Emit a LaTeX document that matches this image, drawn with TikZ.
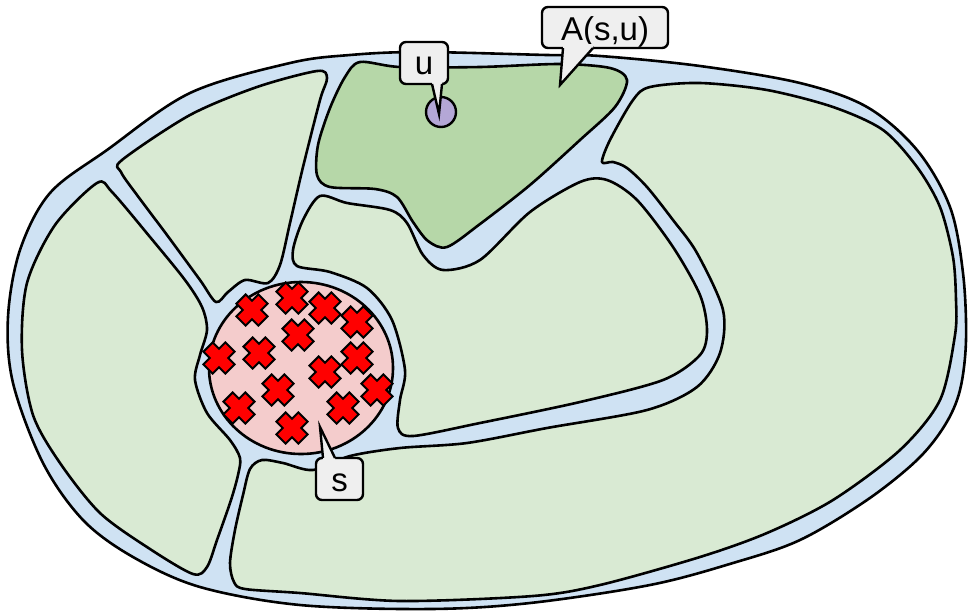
\documentclass[tikz,border=0pt]{standalone}
\usepackage{fontspec}
\setmainfont{Liberation Sans}
\definecolor{chan}{HTML}{CFE2F3}
\definecolor{lgreen}{HTML}{D9EAD3}
\definecolor{dgreen}{HTML}{B6D7A8}
\definecolor{pinkfill}{HTML}{F4CCCC}
\definecolor{lilac}{HTML}{B4A7D6}
\definecolor{boxgray}{HTML}{EFEFEF}
\tikzset{
  outline/.style={draw=black, line width=2.6pt, line join=round},
  region/.style={outline, fill=lgreen},
  callout/.style={draw=black, fill=boxgray, line width=2.4pt, rounded corners=6pt,
    inner sep=0pt, font=\fontsize{33}{38}\selectfont},
  ptrline/.style={draw=black, line width=2.4pt, line join=miter},
  xmark/.pic={
    \filldraw[fill=red, draw=black, line width=2pt, line join=miter, rotate=45]
      (-15.5,-6.5) -- (-6.5,-6.5) -- (-6.5,-15.5) -- (6.5,-15.5) -- (6.5,-6.5) -- (15.5,-6.5)
      -- (15.5,6.5) -- (6.5,6.5) -- (6.5,15.5) -- (-6.5,15.5) -- (-6.5,6.5) -- (-15.5,6.5) -- cycle;
  }
}
\begin{document}
\begin{tikzpicture}[x=1pt,y=-1pt]
\useasboundingbox (0,0) rectangle (968,614);

% outer blob (channels)
\filldraw[outline, fill=chan] plot[smooth cycle, tension=0.55] coordinates {
  (290,63) (350,55) (420,52) (547,55) (600,56) (700,66) (800,83) (867,107)
  (917,150) (950,207) (963,273) (966,340) (960,390) (945,425) (917,460)
  (867,500) (800,540) (733,563) (650,585) (530,603) (430,609) (300,605)
  (200,587) (133,557) (83,520) (43,463) (13,383) (8,317) (20,250) (50,193)
  (107,150) (190,93)};

% left region
\filldraw[region] plot[smooth cycle, tension=0.5] coordinates {
  (97,183) (112,192) (150,237) (185,280) (202,307) (207,330) (200,355)
  (195,380) (207,413) (230,440) (240,458) (238,475) (231,500) (217,540)
  (207,567) (193,574) (150,549) (100,513) (60,463) (33,415) (22,350)
  (27,283) (55,225)};

% top-left region
\filldraw[region] plot[smooth cycle, tension=0.5] coordinates {
  (122,160) (190,115) (257,87) (317,71) (327,78) (320,100) (303,167)
  (290,223) (280,265) (268,283) (245,280) (228,292) (216,302) (200,280)
  (167,235) (137,195) (121,172)};

% dark green region A(s,u)
\filldraw[outline, fill=dgreen] plot[smooth cycle, tension=0.5] coordinates {
  (360,62) (400,67) (480,67) (560,64) (610,68) (627,80) (615,107) (580,140)
  (530,185) (480,224) (447,247) (428,241) (413,222) (397,197) (375,189)
  (330,187) (317,175) (318,145) (330,108) (345,77)};

% middle region
\filldraw[region] plot[smooth cycle, tension=0.5] coordinates {
  (320,196) (347,203) (390,210) (407,223) (423,255) (443,270) (480,260)
  (530,212) (580,182) (607,180) (637,200) (673,247) (700,295) (707,330)
  (700,355) (663,380) (580,402) (480,423) (413,436) (398,428) (400,400)
  (405,370) (392,320) (367,288) (330,272) (297,266) (293,250) (303,220)};

% big wrapping region
\filldraw[region] plot[smooth cycle, tension=0.5] coordinates {
  (650,87) (700,83) (767,90) (833,107) (883,130) (917,167) (940,207)
  (953,257) (956,300) (955,335) (940,400) (900,450) (833,500) (767,533)
  (700,557) (600,585) (533,596) (400,601) (300,593) (245,589) (234,582)
  (230,563) (235,530) (243,495) (250,469) (262,460) (283,463) (313,470)
  (350,456) (400,448) (467,443) (547,428) (647,410) (697,387) (720,353)
  (723,310) (697,253) (673,220) (647,187) (627,168) (613,162) (602,162)
  (610,140) (633,100)};

% source set s
\filldraw[outline, fill=pinkfill] (301,368) ellipse [x radius=92, y radius=86];
\foreach \px/\py in {252/310, 292/298, 325/308, 357/322, 298/335, 219/358,
  259/353, 357/358, 325/372, 278/390, 377/390, 239/408, 343/408, 292/428}
  \pic at (\px,\py) {xmark};

% vertex u
\filldraw[draw=black, line width=2.4pt, fill=lilac] (441,112) circle [radius=15];

% callouts
\node[callout, minimum width=48pt, text height=32pt, text depth=10pt, anchor=base]
  (ulab) at (424,74) {u};
\fill[boxgray] (432,80) -- (432,84) -- (439,114) -- (442,84) -- (442,80) -- cycle;
\draw[ptrline] (432,84) -- (439,114) -- (442,84);

\node[callout, minimum width=126pt, text height=33pt, text depth=8pt, anchor=base]
  (alab) at (605,40) {A(s,u)};
\fill[boxgray] (563,44) -- (563,48) -- (560,85) -- (593,48) -- (593,44) -- cycle;
\draw[ptrline] (563,48) -- (560,85) -- (593,48);

\node[callout, minimum width=47pt, text height=33pt, text depth=9pt, anchor=base]
  (slab) at (339.5,491) {s};
\fill[boxgray] (323,462) -- (323,458) -- (320,427) -- (335,458) -- (335,462) -- cycle;
\draw[ptrline] (323,458) -- (320,427) -- (335,458);
\end{tikzpicture}
\end{document}
